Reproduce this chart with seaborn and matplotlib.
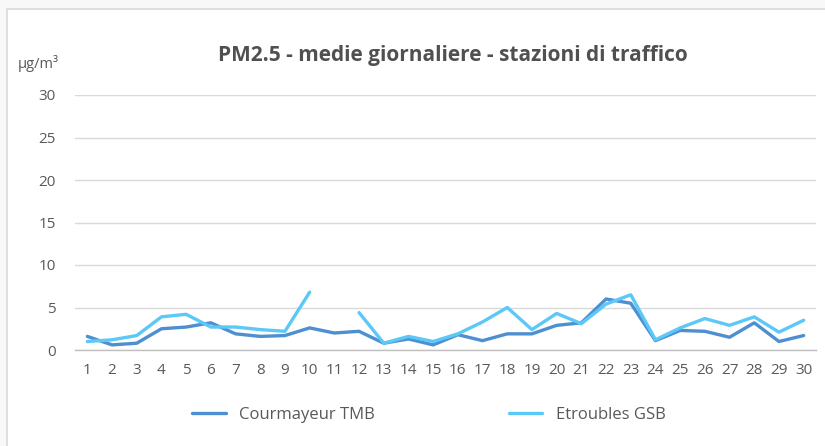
import matplotlib
matplotlib.use("Agg")
import numpy as np
import pandas as pd
import seaborn as sns
import matplotlib.pyplot as plt
from matplotlib.patches import Rectangle

# Data
days = list(range(1, 31))
courmayeur_tmb = [1.6, 0.6, 0.8, 2.5, 2.7, 3.2, 1.9, 1.6, 1.7, 2.6,
                  2.0, 2.2, 0.8, 1.3, 0.6, 1.8, 1.1, 1.9, 1.9, 2.9,
                  3.2, 6.0, 5.5, 1.1, 2.3, 2.2, 1.5, 3.2, 1.0, 1.7]
etroubles_gsb = [1.0, 1.2, 1.7, 3.9, 4.2, 2.7, 2.7, 2.4, 2.2, 6.8,
                 np.nan, 4.4, 0.8, 1.6, 1.0, 1.9, 3.3, 5.0, 2.4, 4.3,
                 3.1, 5.4, 6.5, 1.2, 2.6, 3.7, 2.9, 3.9, 2.1, 3.5]
series_names = ["Courmayeur TMB", "Etroubles GSB"]
colors = ["#4d8fd1", "#5cc8f8"]

df = pd.DataFrame({"day": days,
                   series_names[0]: courmayeur_tmb,
                   series_names[1]: etroubles_gsb})

sns.set_style("white")
plt.rcParams['font.family'] = ['Open Sans', 'DejaVu Sans']

fig = plt.figure(figsize=(8.25, 4.46), dpi=100)
fig.patch.set_facecolor("#f8f8f8")
# white chart area with light border
fig.patches.append(Rectangle((7 / 825, -0.05), 1.0, 1 - 9 / 446 + 0.05,
                             transform=fig.transFigure, facecolor="white",
                             edgecolor="#d9d9d9", linewidth=1.2, zorder=-10))

ax = fig.add_axes([75 / 825, 1 - 350 / 446, (816 - 75) / 825, (350 - 95) / 446])
ax.set_facecolor("none")
ax.set_zorder(1)

for name, c in zip(series_names, colors):
    d = df[["day", name]].copy()
    # gaps (missing days) break the line into separate segments
    d["seg"] = d[name].isna().cumsum()
    d = d.dropna()
    sns.lineplot(data=d, x="day", y=name, units="seg", estimator=None, ax=ax,
                 color=c, linewidth=2.4, legend=False)
    ax.plot([], [], color=c, linewidth=2.4, label=name)

ax.set_xlim(0.5, 30.5)
ax.set_ylim(0, 30)
ax.set_yticks(range(0, 31, 5))
ax.set_xticks(days)
ax.set_xticks(np.arange(0.5, 31, 1), minor=True)
ax.yaxis.grid(True, color="#d9d9d9", linewidth=1)
ax.set_axisbelow(True)
for s in ["top", "right", "left"]:
    ax.spines[s].set_visible(False)
ax.spines["bottom"].set_color("#bfbfbf")
ax.spines["bottom"].set_linewidth(1)
ax.tick_params(axis="x", which="major", length=0, pad=9, labelsize=11, colors="#595959")
ax.tick_params(axis="x", which="minor", length=5, color="#bfbfbf", width=1, direction="out")
ax.tick_params(axis="y", length=0, pad=14, labelsize=11, colors="#595959")
ax.set_xlabel("")
ax.set_ylabel("")

fig.text(453 / 825, 1 - 55 / 446, "PM2.5 - medie giornaliere - stazioni di traffico",
         ha="center", va="center", fontsize=15, fontweight="bold", color="#505050")
fig.text(18 / 825, 1 - 63 / 446, "μg/m³", ha="left", va="center",
         fontsize=10.5, color="#595959")

if ax.get_legend() is not None:
    ax.get_legend().remove()
handles, labels = ax.get_legend_handles_labels()
fig.legend(handles, labels, loc="center", bbox_to_anchor=(429 / 825, 1 - 415 / 446),
           ncol=2, frameon=False, fontsize=12, handlelength=2.0, columnspacing=8.05,
           labelcolor="#595959")

fig.savefig("out.png", dpi=100, facecolor=fig.get_facecolor())
